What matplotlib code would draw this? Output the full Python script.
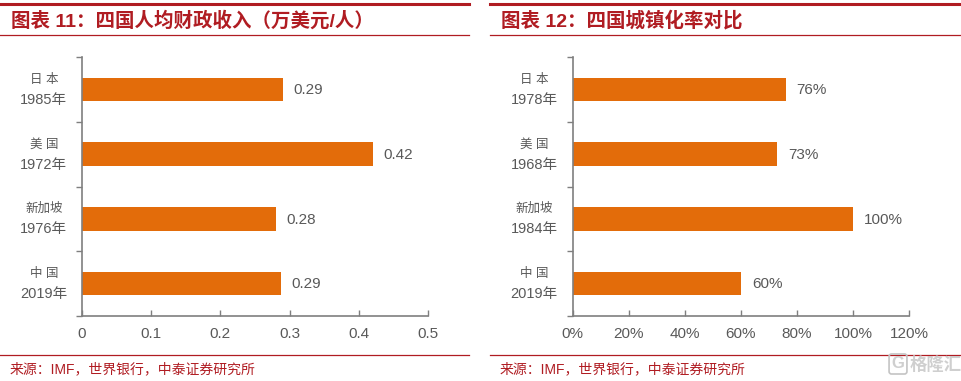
import matplotlib.pyplot as plt
from matplotlib.lines import Line2D

plt.rcParams['font.family'] = ['Liberation Sans', 'Noto Sans CJK SC', 'DejaVu Sans']

W, H = 962, 381
RED = '#B01C22'
ORANGE = '#E36C0A'
GREY = '#595959'

# Data
left_labels = ['日 本\n1985年', '美 国\n1972年', '新加坡\n1976年', '中 国\n2019年']
left_values = [0.29, 0.42, 0.28, 0.287]
left_text = ['0.29', '0.42', '0.28', '0.29']
left_ticks = [0, 0.1, 0.2, 0.3, 0.4, 0.5]
left_ticklabels = ['0', '0.1', '0.2', '0.3', '0.4', '0.5']

right_labels = ['日 本\n1978年', '美 国\n1968年', '新加坡\n1984年', '中 国\n2019年']
right_values = [76, 73, 100, 60]
right_text = ['76%', '73%', '100%', '60%']
right_ticks = [0, 20, 40, 60, 80, 100, 120]
right_ticklabels = ['0%', '20%', '40%', '60%', '80%', '100%', '120%']

fig = plt.figure(figsize=(W / 100, H / 100), dpi=100)


def hline(x0, x1, y, lw):
    fig.add_artist(Line2D([x0 / W, x1 / W], [1 - y / H, 1 - y / H], color=RED, lw=lw))


def panel(x0, x1, rule0, rule1, labels, values, texts, ticks, ticklabels, title, pad):
    # rules, title and source
    hline(rule0, rule1, 4, 2.2)
    hline(rule0, rule1, 35, 0.9)
    hline(rule0, rule1, 355, 0.9)
    fig.text((rule0 + 11) / W, 1 - 21 / H, title, color=RED, fontsize=14,
             fontweight='bold', va='center', ha='left')
    fig.text((rule0 + 10) / W, 1 - 369 / H, '来源：IMF，世界银行，中泰证券研究所',
             color=RED, fontsize=10, va='center', ha='left')

    ax = fig.add_axes([x0 / W, 1 - 316 / H, (x1 - x0) / W, 259 / H])
    pos = range(len(values))
    ax.barh(pos, values, height=0.36, color=ORANGE)
    ax.set_ylim(len(values) - 0.5, -0.5)
    ax.set_xlim(ticks[0], ticks[-1])
    ax.set_yticks([-0.5, 0.5, 1.5, 2.5, 3.5])
    ax.set_yticklabels([])
    ax.set_xticks(ticks)
    ax.set_xticklabels(ticklabels)
    ax.tick_params(axis='x', colors=GREY, labelsize=11, length=4, width=1,
                   direction='in', pad=8)
    ax.tick_params(axis='x', color='#7F7F7F')
    ax.tick_params(axis='y', color='#7F7F7F', length=4, width=1, direction='out')
    for side in ['top', 'right']:
        ax.spines[side].set_visible(False)
    for side in ['left', 'bottom']:
        ax.spines[side].set_color('#7F7F7F')
        ax.spines[side].set_linewidth(1.2)
    for i, (v, t, lab) in enumerate(zip(values, texts, labels)):
        ax.annotate(t, (v, i), xytext=(pad, -0.5), textcoords='offset points',
                    color=GREY, fontsize=11, va='center', ha='left')
        top, bottom = lab.split('\n')
        ax.annotate(top, (0, i), xytext=(-27.5, 7), textcoords='offset points',
                    color=GREY, fontsize=9, ha='center', va='center')
        ax.annotate(bottom, (0, i), xytext=(-27.5, -7.5), textcoords='offset points',
                    color=GREY, fontsize=10.5, ha='center', va='center')


panel(82, 428, 0, 469, left_labels, left_values, left_text, left_ticks, left_ticklabels,
      '图表 11：四国人均财政收入（万美元/人）', 8)
panel(572.5, 909, 490, 960, right_labels, right_values, right_text, right_ticks,
      right_ticklabels, '图表 12：四国城镇化率对比', 8)

# Watermark
fig.text(936 / W, 1 - 364 / H, '格隆汇', color='#C4C4C4', alpha=0.8, fontsize=12.5,
         fontweight='bold', va='center', ha='center')
fig.text(898 / W, 1 - 364 / H, 'G', color='#C4C4C4', alpha=0.8, fontsize=12,
         fontweight='bold', va='center', ha='center',
         bbox=dict(boxstyle='round,pad=0.15', fc='none', ec='#C4C4C4', lw=1.2))

fig.savefig('out.png', dpi=100)
